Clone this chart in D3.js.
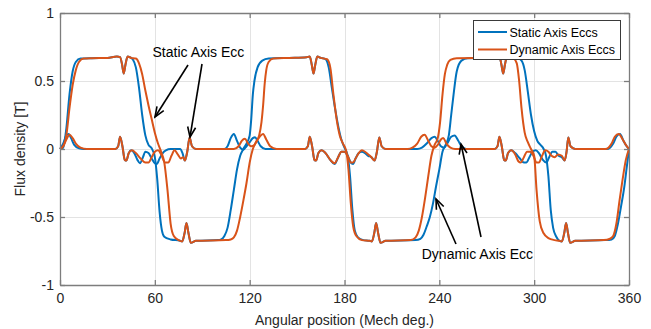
<!DOCTYPE html>
<html>
<head>
<meta charset="utf-8">
<script src="https://cdn.jsdelivr.net/npm/d3@7/dist/d3.min.js"></script>
<style>
  html, body { margin: 0; padding: 0; background: #fff; }
  svg { display: block; font-family: "Liberation Sans", Arial, sans-serif; }
</style>
</head>
<body>
<svg id="chart" width="651" height="329"></svg>
<script>
// ---------- data (angle in mech. degrees, flux density in T) ----------
const xTicks = [0, 60, 120, 180, 240, 300, 360];
const yTicks = [-1, -0.5, 0, 0.5, 1];
const yTickLabels = ["-1", "-0.5", "0", "0.5", "1"];
const seriesNames = ["Static Axis Eccs", "Dynamic Axis Eccs"];
const seriesColors = ["#0072BD", "#D95319"];

// Static axis eccentricity: main (radial) component
const staticMain = [
  [0,0],[2,0.01],[4,0.15],[6,0.4],[8,0.57],[10,0.64],[13,0.665],[20,0.668],[30,0.67],[36,0.68],[38,0.675],[39.3,0.62],[40.3,0.555],[41.4,0.62],[42.8,0.68],[45,0.67],
  [46,0.66],[48,0.6],[50,0.45],[52,0.25],[54,0.1],[56,0.03],[58,0.005],[60,-0.06],[61.5,-0.22],[63,-0.46],[64.5,-0.6],[66,-0.645],[70,-0.665],[76,-0.675],
  [77.3,-0.68],[78.8,-0.62],[80,-0.545],[81.3,-0.62],[82.8,-0.69],[86,-0.675],[100,-0.67],[102,-0.665],[104,-0.64],[106,-0.58],[108,-0.45],[110,-0.3],[112,-0.15],[114,-0.05],[116,0.0],[118,0.04],
  [120,0.1],[121,0.22],[122,0.4],[123,0.5],[125,0.6],[128,0.65],[132,0.665],[145,0.67],[156,0.675],[158,0.68],[159.3,0.62],[160.4,0.555],[161.5,0.62],[162.8,0.68],[165,0.67],
  [168,0.66],[170,0.6],[172,0.45],[174,0.3],[176,0.17],[178,0.07],[180,0.01],[182,-0.05],[183.5,-0.2],[185,-0.45],[186.5,-0.6],[188.5,-0.65],[192,-0.67],[196,-0.675],
  [197.3,-0.68],[198.8,-0.62],[200,-0.545],[201.3,-0.62],[202.8,-0.69],[206,-0.675],[225,-0.67],[228,-0.66],[230,-0.63],[232,-0.57],[234,-0.5],[236,-0.4],[238,-0.27],[240,-0.15],[242,-0.02],[244,0.03],
  [246,0.1],[247.5,0.25],[249,0.4],[251,0.57],[254,0.65],[258,0.668],[270,0.67],[276,0.675],[278,0.68],[279.3,0.62],[280.4,0.555],[281.5,0.62],[282.8,0.68],[285,0.67],
  [290,0.665],[292,0.65],[294,0.58],[296,0.42],[298,0.25],[300,0.13],[302,0.06],[304,0.03],[306,0.0],[307.5,-0.05],[309,-0.2],[310.5,-0.45],[312,-0.58],[314,-0.645],[316,-0.675],
  [317.5,-0.68],[319,-0.62],[320.2,-0.545],[321.4,-0.62],[322.8,-0.69],[326,-0.675],[345,-0.67],[349,-0.665],[351,-0.64],[353,-0.55],[355,-0.42],[357,-0.28],[358.5,-0.14],[360,0]
];
// Static axis eccentricity: small (tangential) component
const staticTan = [
  [0,0],[2,0.04],[4,0.1],[5.5,0.11],[7,0.08],[9,0.03],[12,0.005],[15,0],[35,0],[36.8,0.02],[38,0.09],[39.5,0.02],[41,-0.08],[42,-0.085],[43.5,-0.03],[45,-0.01],
  [47,-0.03],[49,-0.08],[50.6,-0.105],[52.5,-0.06],[54,-0.02],[56,-0.03],[58,-0.07],[60,-0.105],[61.2,-0.11],[63,-0.07],[65,-0.03],[67,-0.01],[70,0],[76,0],
  [77.5,-0.03],[79,-0.085],[80.5,-0.02],[82,0.085],[83.5,0.02],[86,0],[104,0],[106,0.02],[108,0.08],[110,0.11],[112,0.06],[114,0.01],[116,-0.005],[118,0.02],
  [120,0.05],[122,0.08],[123.4,0.087],[125,0.06],[127,0.02],[130,0],[155,0],[156.8,0.02],[158,0.09],[159.5,0.02],[161,-0.08],[162,-0.085],[163.5,-0.03],[165.5,-0.01],
  [168,-0.03],[171,-0.08],[173.7,-0.11],[176,-0.06],[178,-0.02],[180,-0.02],[182,-0.05],[184,-0.1],[185.4,-0.11],[187,-0.07],[189,-0.03],[191,-0.02],[193,-0.03],[195,-0.05],[197,-0.06],
  [199,-0.085],[200.5,-0.02],[202,0.085],[203.5,0.02],[206,0],[226,0],[229,0.01],[232,0.04],[235,0.08],[237,0.09],[239,0.06],[241,0.02],[243,0.01],[245,0.04],[247.5,0.09],
  [249.7,0.1],[252,0.06],[254,0.02],[257,0],[275,0],[276.8,0.02],[278,0.09],[279.5,0.02],[281,-0.08],[282,-0.085],[283.5,-0.03],[285.5,-0.01],[288,-0.03],[291,-0.07],
  [293.5,-0.1],[295,-0.1],[297,-0.06],[299,-0.02],[301,-0.01],[303,-0.03],[305.5,-0.08],[307.7,-0.1],[309.5,-0.06],[311.5,-0.02],[313.5,-0.02],[315.5,-0.05],[317.5,-0.06],
  [319.3,-0.085],[320.5,-0.02],[321.6,0.085],[323,0.02],[326,0],[346,0],[348,0.01],[350,0.04],[352,0.09],[354.3,0.11],[356.5,0.06],[358.5,0.02],[360,0]
];
// Dynamic axis eccentricity: main (radial) component
const dynamicMain = [
  [0,0],[2,0.02],[4,0.1],[6,0.3],[8,0.47],[10,0.58],[12,0.64],[15,0.665],[20,0.668],[30,0.67],[36,0.68],[38,0.675],[39.3,0.62],[40.3,0.555],[41.4,0.62],[42.8,0.68],[45,0.67],
  [48,0.665],[50,0.63],[52,0.55],[54,0.43],[56,0.32],[58,0.22],[60,0.12],[62,0.04],[64,-0.02],[66,-0.1],[68,-0.3],[70,-0.55],[72,-0.64],[75,-0.67],
  [77.3,-0.68],[78.8,-0.62],[80,-0.545],[81.3,-0.62],[82.8,-0.69],[86,-0.675],[105,-0.67],[108,-0.665],[110,-0.65],[112,-0.6],[114,-0.5],[116,-0.38],[118,-0.25],[120,-0.1],
  [122,0.0],[124,0.05],[126,0.1],[127.5,0.2],[128.5,0.32],[129.5,0.48],[130.5,0.58],[132,0.64],[135,0.665],[145,0.67],[156,0.675],[158,0.68],[159.3,0.62],[160.4,0.555],[161.5,0.62],[162.8,0.68],[165,0.67],
  [169,0.66],[171,0.6],[173,0.4],[175,0.22],[177,0.1],[179,0.04],[181,-0.01],[182.5,-0.15],[184,-0.4],[185.5,-0.57],[187.5,-0.64],[191,-0.67],[196,-0.675],
  [197.3,-0.68],[198.8,-0.62],[200,-0.545],[201.3,-0.62],[202.8,-0.69],[206,-0.675],[222,-0.67],[225,-0.65],[227,-0.6],[229,-0.5],[231,-0.36],[233,-0.2],[235,-0.05],[237,0.03],
  [239,0.08],[240.5,0.2],[242,0.4],[243.5,0.55],[245,0.62],[247,0.655],[251,0.668],[270,0.67],[276,0.675],[278,0.68],[279.3,0.62],[280.4,0.555],[281.5,0.62],[282.8,0.68],[285,0.67],
  [287,0.665],[289,0.63],[290.5,0.5],[292,0.3],[294,0.12],[296,0.05],[298,0.0],[300,-0.05],[301.5,-0.3],[303.5,-0.53],[306,-0.62],[309,-0.655],[313,-0.67],[316,-0.675],
  [317.5,-0.68],[319,-0.62],[320.2,-0.545],[321.4,-0.62],[322.8,-0.69],[326,-0.675],[344,-0.67],[348,-0.66],[350,-0.64],[352,-0.55],[354,-0.38],[356,-0.22],[358,-0.08],[360,0]
];
// Dynamic axis eccentricity: small (tangential) component
const dynamicTan = [
  [0,0],[2,0.02],[4,0.07],[6,0.105],[8,0.08],[10,0.04],[13,0.01],[17,0],[35,0],[36.8,0.02],[38,0.09],[39.5,0.02],[41,-0.08],[42,-0.085],[43.5,-0.03],[45.5,-0.01],
  [48,-0.03],[51,-0.07],[54,-0.1],[56,-0.1],[58,-0.06],[60,-0.02],[62,-0.01],[64,-0.04],[66.5,-0.1],[68.5,-0.1],[70.5,-0.05],[72.5,-0.01],[74.5,-0.04],[76.5,-0.07],[78,-0.06],
  [79,-0.085],[80.5,-0.02],[82,0.085],[83.5,0.02],[86,0],[110,0],[113,0.02],[115,0.06],[117,0.075],[119,0.04],[121,0.02],[123,0.03],[125,0.07],[127,0.1],[128.5,0.11],
  [130.5,0.07],[133,0.02],[137,0],[155,0],[156.8,0.02],[158,0.09],[159.5,0.02],[161,-0.08],[162,-0.085],[163.5,-0.03],[165.5,-0.01],[168,-0.03],[171,-0.08],[173.7,-0.105],
  [176,-0.06],[178,-0.02],[180,-0.02],[182,-0.05],[184,-0.1],[185.4,-0.1],[187,-0.07],[189,-0.03],[191,-0.01],[193,-0.02],[195,-0.04],[197,-0.06],[199,-0.085],[200.5,-0.02],
  [202,0.085],[203.5,0.02],[206,0],[220,0],[223,0.01],[226,0.04],[228.5,0.09],[230.7,0.105],[233,0.06],[235,0.02],[237,0.01],[239,0.03],[241,0.07],[242.5,0.08],[244.5,0.04],
  [247,0.01],[250,0],[275,0],[276.8,0.02],[278,0.09],[279.5,0.02],[281,-0.08],[282,-0.085],[283.5,-0.03],[285.5,-0.01],[288,-0.04],[290,-0.09],[291.5,-0.1],[293.5,-0.06],
  [295.5,-0.02],[297.5,-0.02],[299.5,-0.05],[301.5,-0.1],[303,-0.1],[305,-0.05],[307,-0.01],[309,-0.02],[311,-0.05],[313,-0.06],[315,-0.04],[317.5,-0.05],[319.3,-0.085],
  [320.5,-0.02],[321.6,0.085],[323,0.02],[326,0],[345,0],[347,0.01],[349,0.04],[351,0.09],[353.5,0.11],[356,0.07],[358,0.03],[360,0]
];

const annotations = [
  { text: "Static Axis Ecc", x: 152.5, y: 57, anchor: "start",
    arrows: [[[188, 65], [155, 117]], [[202, 64], [190, 137]]] },
  { text: "Dynamic Axis Ecc", x: 533, y: 259, anchor: "end",
    arrows: [[[456, 244], [436, 199]], [[481, 237], [461, 144]]] }
];

// ---------- drawing ----------
const svg = d3.select("#chart");
const W = 651, H = 329;
const m = { left: 60, right: 22, top: 13, bottom: 44 };
const x = d3.scaleLinear().domain([0, 360]).range([m.left, W - m.right]);
const y = d3.scaleLinear().domain([-1, 1]).range([H - m.bottom, m.top]);

svg.append("rect").attr("width", W).attr("height", H).attr("fill", "#fff");

// grid
const grid = svg.append("g").attr("stroke", "#e3e3e3").attr("stroke-width", 1);
grid.selectAll(".gx").data(xTicks.slice(1, -1)).join("line")
  .attr("x1", d => Math.round(x(d)) + 0.5).attr("x2", d => Math.round(x(d)) + 0.5)
  .attr("y1", y(-1)).attr("y2", y(1));
grid.selectAll(".gy").data(yTicks.slice(1, -1)).join("line")
  .attr("y1", d => Math.round(y(d)) + 0.5).attr("y2", d => Math.round(y(d)) + 0.5)
  .attr("x1", x(0)).attr("x2", x(360));

// lines
const line = d3.line().x(d => x(d[0])).y(d => y(d[1])).curve(d3.curveMonotoneX);
const curves = [
  { data: staticMain, color: seriesColors[0] },
  { data: staticTan, color: seriesColors[0] },
  { data: dynamicMain, color: seriesColors[1] },
  { data: dynamicTan, color: seriesColors[1] }
];
svg.append("g").selectAll("path").data(curves).join("path")
  .attr("d", d => line(d.data))
  .attr("fill", "none")
  .attr("stroke", d => d.color)
  .attr("stroke-width", 2)
  .attr("stroke-linejoin", "round");

// axes
const axisColor = "#7d7d7d";
const tickFont = 14;
function styleAxis(g) {
  g.select(".domain").attr("stroke", axisColor).attr("stroke-width", 1.3);
  g.selectAll(".tick line").attr("stroke", axisColor).attr("stroke-width", 1.3);
  g.selectAll("text").attr("fill", "#262626").attr("font-size", tickFont)
    .attr("font-family", "Liberation Sans, Arial, sans-serif");
}
svg.append("g").attr("transform", `translate(0,${y(-1)})`)
  .call(d3.axisBottom(x).tickValues(xTicks).tickSizeInner(-5).tickSizeOuter(0).tickPadding(8.5))
  .call(styleAxis);
svg.append("g").attr("transform", `translate(0,${y(1)})`)
  .call(d3.axisTop(x).tickValues(xTicks).tickSizeInner(-5).tickSizeOuter(0).tickFormat(""))
  .call(styleAxis);
svg.append("g").attr("transform", `translate(${x(0)},0)`)
  .call(d3.axisLeft(y).tickValues(yTicks).tickSizeInner(-5).tickSizeOuter(0).tickPadding(6)
    .tickFormat((d, i) => yTickLabels[i]))
  .call(styleAxis);
svg.append("g").attr("transform", `translate(${x(360)},0)`)
  .call(d3.axisRight(y).tickValues(yTicks).tickSizeInner(-5).tickSizeOuter(0).tickFormat(""))
  .call(styleAxis);

// axis labels
svg.append("text").attr("x", (x(0) + x(360)) / 2).attr("y", 325)
  .attr("text-anchor", "middle").attr("font-size", 14).attr("fill", "#262626")
  .text("Angular position (Mech deg.)");
svg.append("text").attr("transform", `translate(25,${(y(1) + y(-1)) / 2}) rotate(-90)`)
  .attr("text-anchor", "middle").attr("font-size", 14).attr("fill", "#262626")
  .text("Flux density [T]");

// annotations with arrows
const defs = svg.append("defs");
defs.append("marker").attr("id", "arrowhead").attr("viewBox", "-12 -6 14 12")
  .attr("refX", 0).attr("refY", 0).attr("markerWidth", 14).attr("markerHeight", 12)
  .attr("markerUnits", "userSpaceOnUse").attr("orient", "auto")
  .append("path").attr("d", "M-10,-4 L0,0 L-10,4").attr("fill", "none")
  .attr("stroke", "#000").attr("stroke-width", 1.6);
annotations.forEach(a => {
  svg.append("text").attr("x", a.x).attr("y", a.y).attr("text-anchor", a.anchor)
    .attr("font-size", 14).attr("fill", "#000").text(a.text);
  a.arrows.forEach(ar => {
    svg.append("line").attr("x1", ar[0][0]).attr("y1", ar[0][1])
      .attr("x2", ar[1][0]).attr("y2", ar[1][1])
      .attr("stroke", "#000").attr("stroke-width", 1.6)
      .attr("marker-end", "url(#arrowhead)");
  });
});

// legend
const lg = svg.append("g").attr("transform", "translate(473.5,20.5)");
lg.append("rect").attr("width", 147).attr("height", 39).attr("fill", "#fff")
  .attr("stroke", "#3a3a3a").attr("stroke-width", 1);
seriesNames.forEach((name, i) => {
  const cy = 11.5 + i * 17.5;
  lg.append("line").attr("x1", 4.5).attr("x2", 33.5).attr("y1", cy).attr("y2", cy)
    .attr("stroke", seriesColors[i]).attr("stroke-width", 2);
  lg.append("text").attr("x", 36).attr("y", cy + 4.5).attr("font-size", 12.5)
    .attr("fill", "#000").text(name);
});
</script>
</body>
</html>
